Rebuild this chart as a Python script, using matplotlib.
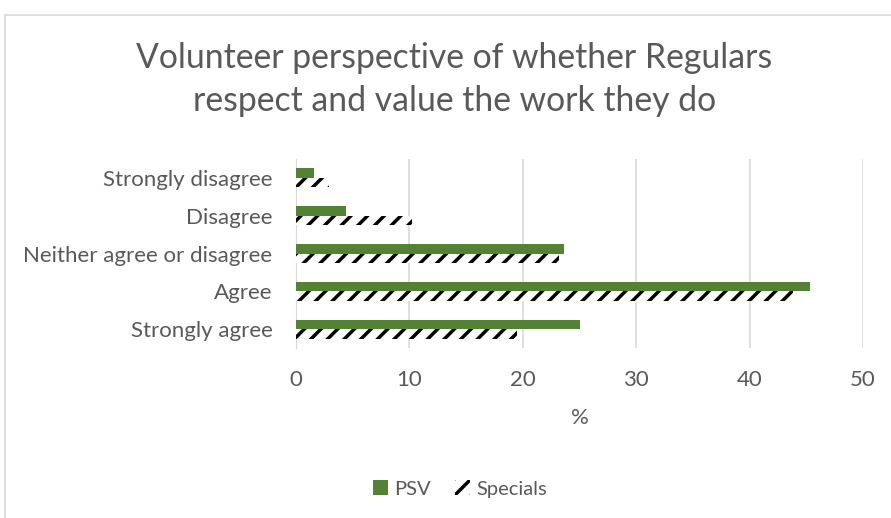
import numpy as np
import matplotlib
matplotlib.use('Agg')
import matplotlib.pyplot as plt
from matplotlib.patches import Rectangle, Patch

###Data###
categories = ['Strongly agree', 'Agree', 'Neither agree or disagree', 'Disagree', 'Strongly disagree']
psv = [25.0, 45.3, 23.6, 4.4, 1.6]
specials = [19.5, 43.8, 23.2, 10.2, 2.9]
xticks = [0, 10, 20, 30, 40, 50]

green = '#548235'
grey_text = '#595959'
grid_col = '#d9d9d9'

plt.rcParams['font.family'] = ['Lato', 'DejaVu Sans']
plt.rcParams['hatch.linewidth'] = 2.5
plt.rcParams['hatch.color'] = 'black'

fig = plt.figure(figsize=(8.91, 5.18), dpi=100)
ax = fig.add_axes([296/891, 1-348/518, (863-296)/891, (348-159)/518])

y = np.arange(len(categories))
h = 0.25
ax.barh(y + h/2, psv, height=h, color=green, zorder=3)
ax.barh(y - h/2, specials, height=h, color='white', hatch='//', edgecolor='black', linewidth=0, zorder=3)

ax.set_xlim(0, 50)
ax.set_ylim(-0.5, len(categories) - 0.5)
ax.set_xticks(xticks)
ax.set_yticks(y)
ax.set_yticklabels(categories)
ax.tick_params(axis='both', length=0, labelsize=16, colors=grey_text)
ax.tick_params(axis='x', pad=16)
ax.tick_params(axis='y', pad=17)
ax.grid(axis='x', color=grid_col, linewidth=1.2, zorder=0)
for s in ['top', 'right', 'bottom']:
    ax.spines[s].set_visible(False)
ax.spines['left'].set_color(grid_col)
ax.set_xlabel('%', fontsize=16, color=grey_text, labelpad=13)

fig.text(0.51, 1-58/518, 'Volunteer perspective of whether Regulars', ha='center', va='center',
         fontsize=24.3, color=grey_text)
fig.text(0.51, 1-101/518, 'respect and value the work they do', ha='center', va='center',
         fontsize=24.3, color=grey_text)

handles = [Patch(facecolor=green, label='PSV'),
           Patch(facecolor='white', hatch='//', edgecolor='black', linewidth=0, label='Specials')]
fig.legend(handles=handles, loc='center', bbox_to_anchor=(0.516, 1-489/518), ncol=2, frameon=False,
           fontsize=14.5, labelcolor=grey_text, handlelength=0.75, handleheight=0.75,
           handletextpad=0.3, columnspacing=1.2)

# chart area border
fig.patches.append(Rectangle((5/891, -0.1), 1.2, 1-15/518+0.1, transform=fig.transFigure,
                             fill=False, edgecolor=grid_col, linewidth=1.2))

fig.savefig('out.png', dpi=100)
